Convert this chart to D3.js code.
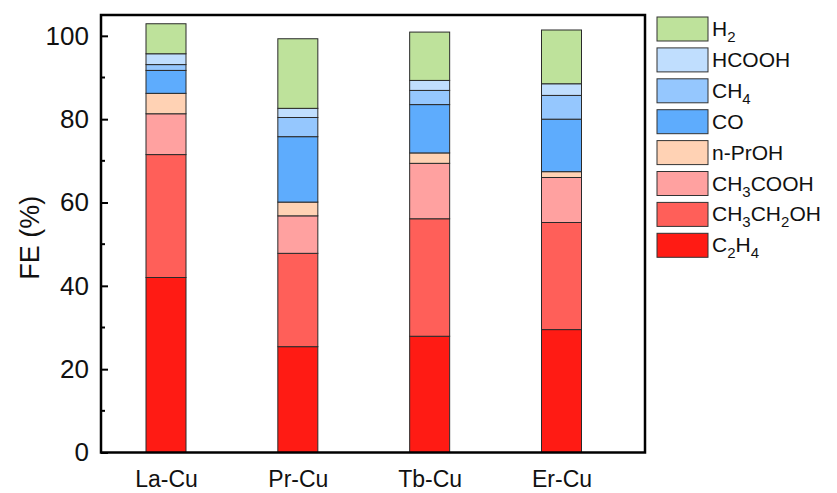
<!DOCTYPE html>
<html>
<head>
<meta charset="utf-8">
<script src="https://cdn.jsdelivr.net/npm/d3@7"></script>
<style>
  body { margin: 0; background: #fff; }
  svg { display: block; font-family: Arial, 'Liberation Sans', sans-serif; }
</style>
</head>
<body>
<div id="chart"></div>
<script>
const catalysts = ['La-Cu', 'Pr-Cu', 'Tb-Cu', 'Er-Cu'];
// products, bottom of the stack first
const products = ['C2H4', 'CH3CH2OH', 'CH3COOH', 'n-PrOH', 'CO', 'CH4', 'HCOOH', 'H2'];
const productColors = ['#ff1b14', '#ff5f59', '#ffa1a0', '#ffd2b4', '#5eacfd', '#95c7fe', '#c0defe', '#bee29b'];
// FE (%) per product, same order as catalysts
const feC2H4 = [42.0, 25.4, 27.9, 29.5];
const feEtOH = [29.5, 22.4, 28.2, 25.7];
const feAcetic = [9.8, 9.0, 13.3, 10.8];
const fePrOH = [4.9, 3.3, 2.5, 1.4];
const feCO = [5.5, 15.7, 11.6, 12.6];
const feCH4 = [1.4, 4.6, 3.4, 5.7];
const feHCOOH = [2.6, 2.2, 2.4, 2.8];
const feH2 = [7.2, 16.7, 11.6, 12.9];
const yTicks = [0, 20, 40, 60, 80, 100];

const width = 837;
const height = 493;
const plot = { left: 101, right: 645, top: 15, bottom: 452.5 };

const series = [feC2H4, feEtOH, feAcetic, fePrOH, feCO, feCH4, feHCOOH, feH2];
const rows = catalysts.map((cat, i) => {
  const row = { cat };
  products.forEach((p, j) => { row[p] = series[j][i]; });
  return row;
});

const svg = d3.select('#chart').append('svg')
  .attr('width', width)
  .attr('height', height);

const x = d3.scalePoint().domain(catalysts).range([166, 561.5]);
const y = d3.scaleLinear().domain([0, 105]).range([plot.bottom, plot.top]);
const color = d3.scaleOrdinal().domain(products).range(productColors);
const barWidth = 40;

/* Writes a chemical formula into a text node, digits become subscripts
   Params: @textSel is the d3 text selection
           @label is the plain formula string
*/
function AppendFormula(textSel, label) {
  const subShift = 6;
  let lowered = false;
  label.match(/\d+|\D+/g).forEach((part) => {
    const isSub = /^\d+$/.test(part);
    let dy = 0;
    if (isSub && !lowered) dy = subShift;
    if (!isSub && lowered) dy = -subShift;
    lowered = isSub;
    textSel.append('tspan')
      .attr('font-size', isSub ? 15 : null)
      .attr('dy', dy)
      .text(part);
  });
}

// stacked bars
const stacked = d3.stack().keys(products)(rows);
svg.append('g')
  .selectAll('g')
  .data(stacked)
  .join('g')
  .attr('fill', (d) => color(d.key))
  .selectAll('rect')
  .data((d) => d)
  .join('rect')
  .attr('x', (d) => x(d.data.cat) - barWidth / 2)
  .attr('y', (d) => y(d[1]))
  .attr('width', barWidth)
  .attr('height', (d) => y(d[0]) - y(d[1]))
  .attr('stroke', '#2a2a2a')
  .attr('stroke-width', 1);

// axes
const yAxis = svg.append('g')
  .attr('transform', `translate(${plot.left},0)`)
  .call(d3.axisLeft(y).tickValues(yTicks).tickSizeInner(-7).tickSizeOuter(0).tickPadding(12));
yAxis.select('.domain').remove();
yAxis.selectAll('.tick line').attr('stroke', '#000').attr('stroke-width', 2);
yAxis.selectAll('.tick text')
  .attr('font-size', 26)
  .attr('font-family', 'Arial, "Liberation Sans", sans-serif')
  .attr('fill', '#111');

// minor ticks
svg.append('g')
  .selectAll('line')
  .data(d3.range(10, 105, 20))
  .join('line')
  .attr('x1', plot.left)
  .attr('x2', plot.left + 4)
  .attr('y1', (d) => y(d))
  .attr('y2', (d) => y(d))
  .attr('stroke', '#000')
  .attr('stroke-width', 2);

const xAxis = svg.append('g')
  .attr('transform', `translate(0,${plot.bottom})`)
  .call(d3.axisBottom(x).tickSize(0).tickPadding(18));
xAxis.select('.domain').remove();
xAxis.selectAll('.tick text')
  .attr('font-size', 23)
  .attr('font-family', 'Arial, "Liberation Sans", sans-serif')
  .attr('fill', '#111');

// frame
svg.append('rect')
  .attr('x', plot.left)
  .attr('y', plot.top)
  .attr('width', plot.right - plot.left)
  .attr('height', plot.bottom - plot.top)
  .attr('fill', 'none')
  .attr('stroke', '#000')
  .attr('stroke-width', 2.5);

svg.append('text')
  .attr('transform', `translate(39,${(plot.top + plot.bottom) / 2 + 4}) rotate(-90)`)
  .attr('text-anchor', 'middle')
  .attr('font-size', 27)
  .attr('fill', '#111')
  .text('FE (%)');

// legend, top entry is last in the stack
const legend = svg.append('g').attr('transform', 'translate(657,17)');
const legendItems = legend.selectAll('g')
  .data(products.slice().reverse())
  .join('g')
  .attr('transform', (d, i) => `translate(0,${i * 30.9})`);
legendItems.append('rect')
  .attr('width', 51)
  .attr('height', 24)
  .attr('fill', (d) => color(d))
  .attr('stroke', '#333')
  .attr('stroke-width', 1);
legendItems.append('text')
  .attr('x', 55)
  .attr('y', 19)
  .attr('font-size', 21)
  .attr('fill', '#111')
  .each(function (d) { AppendFormula(d3.select(this), d); });
</script>
</body>
</html>
